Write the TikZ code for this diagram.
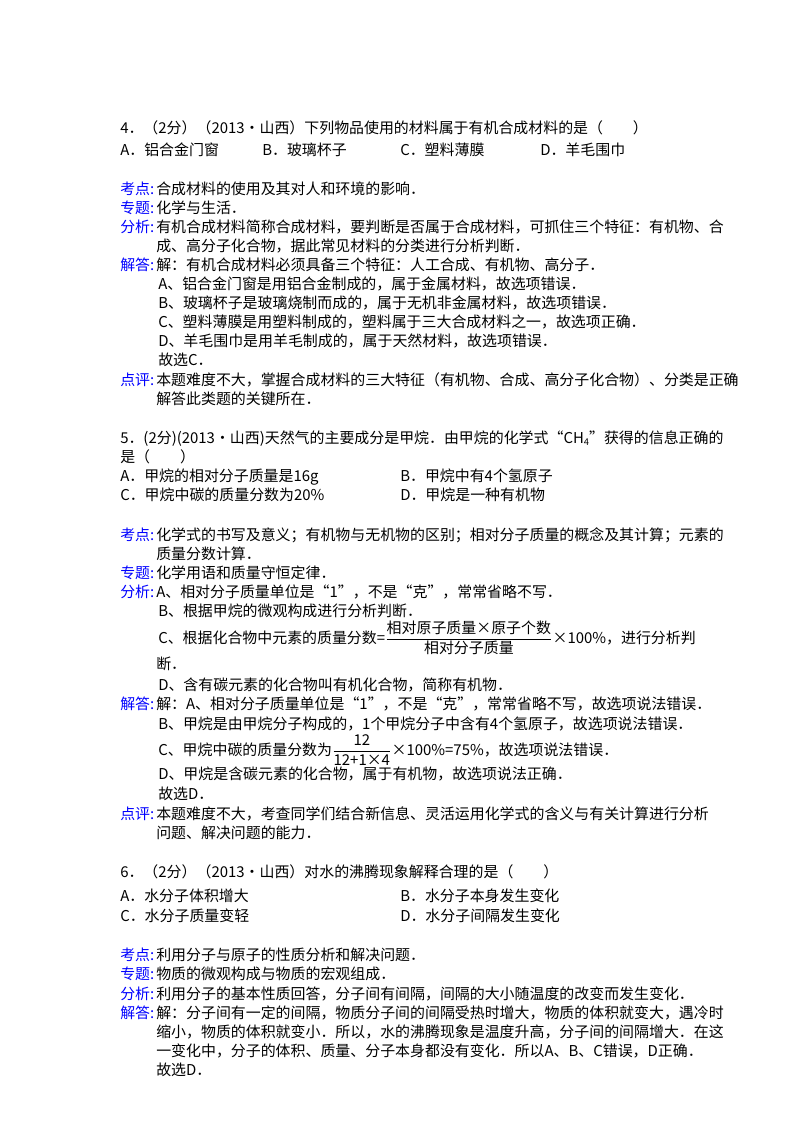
\documentclass[tikz,border=0pt]{standalone}
\usepackage{amsmath}
\usepackage{fontspec}
\setmainfont{Noto Sans CJK SC}
\begin{document}
\begin{tikzpicture}[x=0.75pt,y=-0.75pt,
 t/.style={anchor=base west,inner sep=0,font=\fontsize{11.2pt}{13pt}\selectfont},
 lab/.style={t,text=blue}]
\useasboundingbox[fill=white] (0,0) rectangle (800,1132);
\newcommand\tl[3]{\node[t] at (#1,#2) {#3};}
\newcommand\lb[3]{\node[lab] at (#1,#2) {#3};}
% Q4
\tl{120}{133}{4．（2分）（2013•山西）下列物品使用的材料属于有机合成材料的是（\quad\quad）}
\tl{120}{155}{A．铝合金门窗}
\tl{262}{155}{B．玻璃杯子}
\tl{400}{155}{C．塑料薄膜}
\tl{540}{155}{D．羊毛围巾}
\lb{120}{194}{考点:}\tl{156}{194}{合成材料的使用及其对人和环境的影响．}
\lb{120}{213}{专题:}\tl{156}{213}{化学与生活．}
\lb{120}{232}{分析:}\tl{156}{232}{有机合成材料简称合成材料，要判断是否属于合成材料，可抓住三个特征：有机物、合}
\tl{156}{251}{成、高分子化合物，据此常见材料的分类进行分析判断．}
\lb{120}{270}{解答:}\tl{156}{270}{解：有机合成材料必须具备三个特征：人工合成、有机物、高分子．}
\tl{158}{289}{A、铝合金门窗是用铝合金制成的，属于金属材料，故选项错误．}
\tl{158}{308}{B、玻璃杯子是玻璃烧制而成的，属于无机非金属材料，故选项错误．}
\tl{158}{327}{C、塑料薄膜是用塑料制成的，塑料属于三大合成材料之一，故选项正确．}
\tl{158}{346}{D、羊毛围巾是用羊毛制成的，属于天然材料，故选项错误．}
\tl{158}{365}{故选C．}
\lb{120}{385}{点评:}\tl{156}{385}{本题难度不大，掌握合成材料的三大特征（有机物、合成、高分子化合物）、分类是正确}
\tl{156}{404}{解答此类题的关键所在．}
% Q5
\tl{120}{443}{5．(2分)(2013•山西)天然气的主要成分是甲烷．由甲烷的化学式“CH\raisebox{-0.3ex}{\scriptsize 4}”获得的信息正确的}
\tl{120}{462}{是（\quad\quad）}
\tl{120}{481}{A．甲烷的相对分子质量是16g}
\tl{400}{481}{B．甲烷中有4个氢原子}
\tl{120}{500}{C．甲烷中碳的质量分数为20\%}
\tl{400}{500}{D．甲烷是一种有机物}
\lb{120}{540}{考点:}\tl{156}{540}{化学式的书写及意义；有机物与无机物的区别；相对分子质量的概念及其计算；元素的}
\tl{156}{559}{质量分数计算．}
\lb{120}{578}{专题:}\tl{156}{578}{化学用语和质量守恒定律．}
\lb{120}{597}{分析:}\tl{156}{597}{A、相对分子质量单位是“1”，不是“克”，常常省略不写．}
\tl{158}{616}{B、根据甲烷的微观构成进行分析判断．}
\tl{158}{643}{C、根据化合物中元素的质量分数=$\dfrac{\hbox{相对原子质量×原子个数}}{\hbox{相对分子质量}}$×100\%，进行分析判}
\tl{156}{669}{断．}
\tl{158}{690}{D、含有碳元素的化合物叫有机化合物，简称有机物．}
\lb{120}{709}{解答:}\tl{156}{709}{解：A、相对分子质量单位是“1”，不是“克”，常常省略不写，故选项说法错误．}
\tl{158}{729}{B、甲烷是由甲烷分子构成的，1个甲烷分子中含有4个氢原子，故选项说法错误．}
\tl{158}{755}{C、甲烷中碳的质量分数为$\dfrac{\hbox{12}}{\hbox{12+1×4}}$×100\%=75\%，故选项说法错误．}
\tl{158}{779}{D、甲烷是含碳元素的化合物，属于有机物，故选项说法正确．}
\tl{158}{799}{故选D．}
\lb{120}{819}{点评:}\tl{156}{819}{本题难度不大，考查同学们结合新信息、灵活运用化学式的含义与有关计算进行分析}
\tl{156}{838}{问题、解决问题的能力．}
% Q6
\tl{120}{877}{6．（2分）（2013•山西）对水的沸腾现象解释合理的是（\quad\quad）}
\tl{120}{901}{A．水分子体积增大}
\tl{400}{901}{B．水分子本身发生变化}
\tl{120}{921}{C．水分子质量变轻}
\tl{400}{921}{D．水分子间隔发生变化}
\lb{120}{960}{考点:}\tl{156}{960}{利用分子与原子的性质分析和解决问题．}
\lb{120}{979}{专题:}\tl{156}{979}{物质的微观构成与物质的宏观组成．}
\lb{120}{999}{分析:}\tl{156}{999}{利用分子的基本性质回答，分子间有间隔，间隔的大小随温度的改变而发生变化．}
\lb{120}{1018}{解答:}\tl{156}{1018}{解：分子间有一定的间隔，物质分子间的间隔受热时增大，物质的体积就变大，遇冷时}
\tl{156}{1037}{缩小，物质的体积就变小．所以，水的沸腾现象是温度升高，分子间的间隔增大．在这}
\tl{156}{1056}{一变化中，分子的体积、质量、分子本身都没有变化．所以A、B、C错误，D正确．}
\tl{156}{1075}{故选D．}
\end{tikzpicture}
\end{document}
